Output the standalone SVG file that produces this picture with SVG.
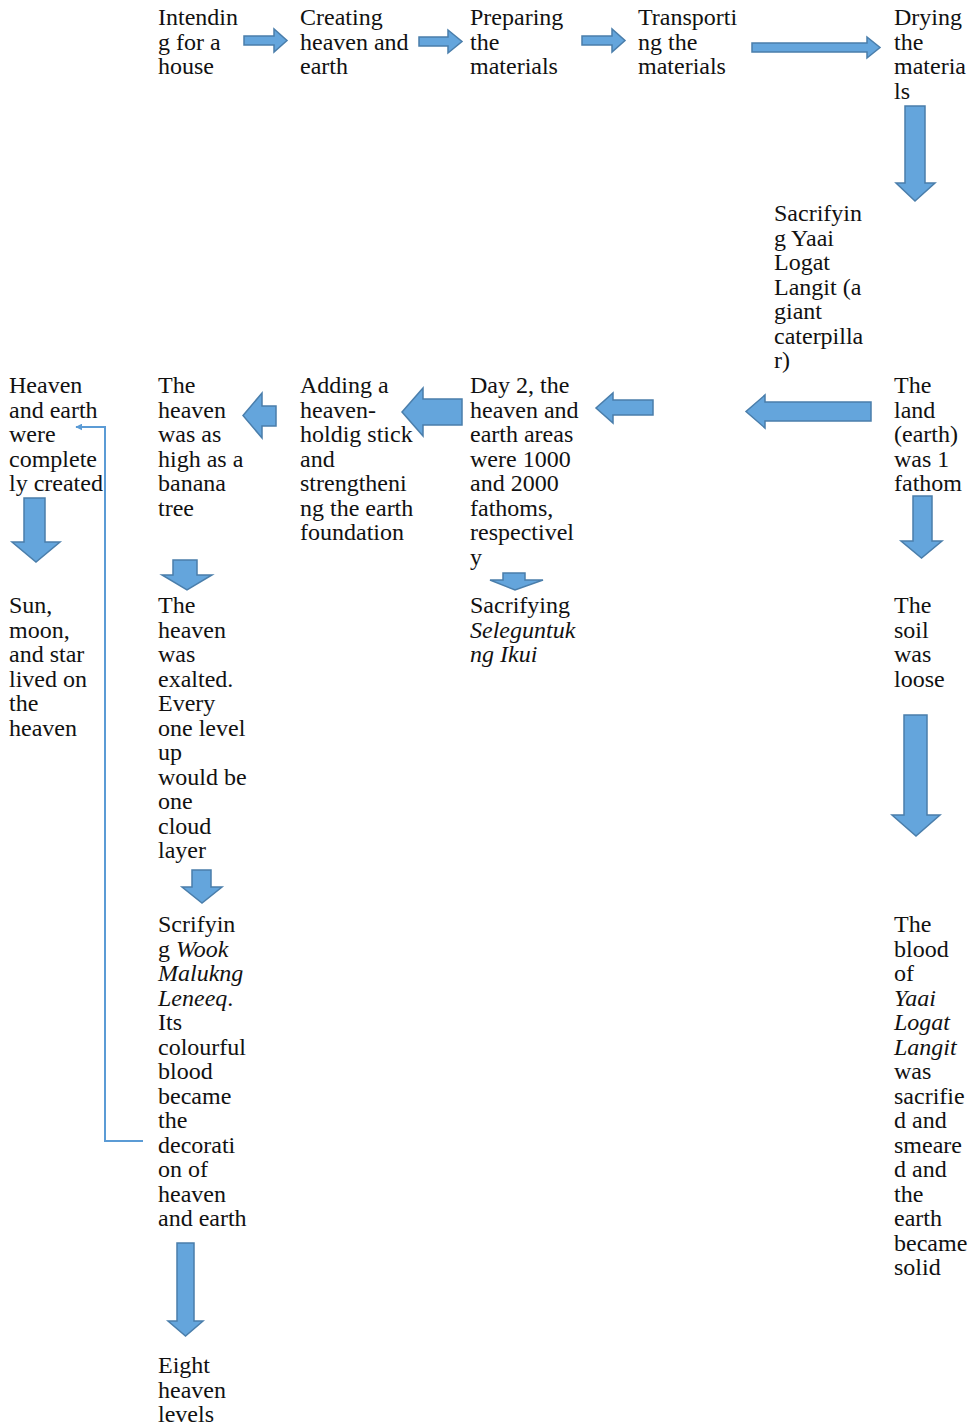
<svg xmlns="http://www.w3.org/2000/svg" width="976" height="1426" viewBox="0 0 976 1426">
<defs>
<style>
text{font-family:'Liberation Serif','Times New Roman',Times,serif;font-size:24px;fill:#111}
.i{font-style:italic}
.a{fill:#64a5dc;stroke:#4a7eab;stroke-width:1.5;stroke-linejoin:miter}
.c{fill:none;stroke:#5b9bd5;stroke-width:2}
</style>
<marker id="ah" viewBox="0 0 10 10" refX="9" refY="5" markerWidth="7" markerHeight="7" orient="auto" markerUnits="userSpaceOnUse">
<path d="M0,0 L10,5 L0,10 z" fill="#5b9bd5"/>
</marker>
</defs>
<rect width="976" height="1426" fill="#fff"/>

<g id="connectors">
<polygon class="a" points="244,36 274,36 274,29 287,40.5 274,52 274,45 244,45"/>
<polygon class="a" points="419,37 448,37 448,30 462,41.5 448,53 448,46 419,46"/>
<polygon class="a" points="582,36 612,36 612,29 625,40.5 612,52 612,45 582,45"/>
<polygon class="a" points="752,43 867,43 867,37 880,47.5 867,58 867,52 752,52"/>
<polygon class="a" points="905,106 925,106 925,183 935,183 915,201 896,183 905,183"/>
<polygon class="a" points="871,402 765,402 765,395 746,411.5 765,428 765,421 871,421"/>
<polygon class="a" points="653,400 613,400 613,393 596,408 613,423 613,415 653,415"/>
<polygon class="a" points="462,399 423,399 423,388 402,412 423,436 423,425 462,425"/>
<polygon class="a" points="276,406 262,406 262,393 243,415.5 262,438 262,426 276,426"/>
<polygon class="a" points="913,496 932,496 932,541 942,541 921.5,558 901,541 913,541"/>
<polygon class="a" points="24,498 45,498 45,542 60,542 36,562 12,542 24,542"/>
<polygon class="a" points="173,560 197,560 197,575 212,575 187,590 162,575 173,575"/>
<polygon class="a" points="503,573 525,573 525,580 543,580 515,590 490,580 503,580"/>
<polygon class="a" points="904,715 927,715 927,815 940,815 916,836 892,815 904,815"/>
<polygon class="a" points="192,870 211,870 211,887 222,887 202,903 182,887 192,887"/>
<polygon class="a" points="177,1243 194,1243 194,1321 203,1321 185.5,1336 168,1321 177,1321"/>
<polyline class="c" points="143,1141 105,1141 105,427 76,427" marker-end="url(#ah)"/>
</g>

<g font-family="Liberation Serif, serif">
<g id="n1"><text x="158" y="25"><tspan x="158">Intendin</tspan><tspan x="158" dy="24.5">g for a</tspan><tspan x="158" dy="24.5">house</tspan></text></g>
<g id="n2"><text x="300" y="25"><tspan x="300">Creating</tspan><tspan x="300" dy="24.5">heaven and</tspan><tspan x="300" dy="24.5">earth</tspan></text></g>
<g id="n3"><text x="470" y="25"><tspan x="470">Preparing</tspan><tspan x="470" dy="24.5">the</tspan><tspan x="470" dy="24.5">materials</tspan></text></g>
<g id="n4"><text x="638" y="25"><tspan x="638">Transporti</tspan><tspan x="638" dy="24.5">ng the</tspan><tspan x="638" dy="24.5">materials</tspan></text></g>
<g id="n5"><text x="894" y="25"><tspan x="894">Drying</tspan><tspan x="894" dy="24.5">the</tspan><tspan x="894" dy="24.5">materia</tspan><tspan x="894" dy="24.5">ls</tspan></text></g>
<g id="n6"><text x="774" y="221"><tspan x="774">Sacrifyin</tspan><tspan x="774" dy="24.5">g Yaai</tspan><tspan x="774" dy="24.5">Logat</tspan><tspan x="774" dy="24.5">Langit (a</tspan><tspan x="774" dy="24.5">giant</tspan><tspan x="774" dy="24.5">caterpilla</tspan><tspan x="774" dy="24.5">r)</tspan></text></g>
<g id="n7"><text x="894" y="393"><tspan x="894">The</tspan><tspan x="894" dy="24.5">land</tspan><tspan x="894" dy="24.5">(earth)</tspan><tspan x="894" dy="24.5">was 1</tspan><tspan x="894" dy="24.5">fathom</tspan></text></g>
<g id="n8"><text x="470" y="393"><tspan x="470">Day 2, the</tspan><tspan x="470" dy="24.5">heaven and</tspan><tspan x="470" dy="24.5">earth areas</tspan><tspan x="470" dy="24.5">were 1000</tspan><tspan x="470" dy="24.5">and 2000</tspan><tspan x="470" dy="24.5">fathoms,</tspan><tspan x="470" dy="24.5">respectivel</tspan><tspan x="470" dy="24.5">y</tspan></text></g>
<g id="n9"><text x="300" y="393"><tspan x="300">Adding a</tspan><tspan x="300" dy="24.5">heaven-</tspan><tspan x="300" dy="24.5">holdig stick</tspan><tspan x="300" dy="24.5">and</tspan><tspan x="300" dy="24.5">strengtheni</tspan><tspan x="300" dy="24.5">ng the earth</tspan><tspan x="300" dy="24.5">foundation</tspan></text></g>
<g id="n10"><text x="158" y="393"><tspan x="158">The</tspan><tspan x="158" dy="24.5">heaven</tspan><tspan x="158" dy="24.5">was as</tspan><tspan x="158" dy="24.5">high as a</tspan><tspan x="158" dy="24.5">banana</tspan><tspan x="158" dy="24.5">tree</tspan></text></g>
<g id="n11"><text x="9" y="393"><tspan x="9">Heaven</tspan><tspan x="9" dy="24.5">and earth</tspan><tspan x="9" dy="24.5">were</tspan><tspan x="9" dy="24.5">complete</tspan><tspan x="9" dy="24.5">ly created</tspan></text></g>
<g id="n12"><text x="9" y="613"><tspan x="9">Sun,</tspan><tspan x="9" dy="24.5">moon,</tspan><tspan x="9" dy="24.5">and star</tspan><tspan x="9" dy="24.5">lived on</tspan><tspan x="9" dy="24.5">the</tspan><tspan x="9" dy="24.5">heaven</tspan></text></g>
<g id="n13"><text x="158" y="613"><tspan x="158">The</tspan><tspan x="158" dy="24.5">heaven</tspan><tspan x="158" dy="24.5">was</tspan><tspan x="158" dy="24.5">exalted.</tspan><tspan x="158" dy="24.5">Every</tspan><tspan x="158" dy="24.5">one level</tspan><tspan x="158" dy="24.5">up</tspan><tspan x="158" dy="24.5">would be</tspan><tspan x="158" dy="24.5">one</tspan><tspan x="158" dy="24.5">cloud</tspan><tspan x="158" dy="24.5">layer</tspan></text></g>
<g id="n14"><text x="470" y="613"><tspan x="470">Sacrifying</tspan><tspan x="470" dy="24.5" class="i">Seleguntuk</tspan><tspan x="470" dy="24.5" class="i">ng Ikui</tspan></text></g>
<g id="n15"><text x="894" y="613"><tspan x="894">The</tspan><tspan x="894" dy="24.5">soil</tspan><tspan x="894" dy="24.5">was</tspan><tspan x="894" dy="24.5">loose</tspan></text></g>
<g id="n16"><text x="158" y="932"><tspan x="158">Scrifyin</tspan><tspan x="158" dy="24.5">g <tspan class="i">Wook</tspan></tspan><tspan x="158" dy="24.5" class="i">Malukng</tspan><tspan x="158" dy="24.5"><tspan class="i">Leneeq</tspan>.</tspan><tspan x="158" dy="24.5">Its</tspan><tspan x="158" dy="24.5">colourful</tspan><tspan x="158" dy="24.5">blood</tspan><tspan x="158" dy="24.5">became</tspan><tspan x="158" dy="24.5">the</tspan><tspan x="158" dy="24.5">decorati</tspan><tspan x="158" dy="24.5">on of</tspan><tspan x="158" dy="24.5">heaven</tspan><tspan x="158" dy="24.5">and earth</tspan></text></g>
<g id="n17"><text x="894" y="932"><tspan x="894">The</tspan><tspan x="894" dy="24.5">blood</tspan><tspan x="894" dy="24.5">of</tspan><tspan x="894" dy="24.5" class="i">Yaai</tspan><tspan x="894" dy="24.5" class="i">Logat</tspan><tspan x="894" dy="24.5" class="i">Langit</tspan><tspan x="894" dy="24.5">was</tspan><tspan x="894" dy="24.5">sacrifie</tspan><tspan x="894" dy="24.5">d and</tspan><tspan x="894" dy="24.5">smeare</tspan><tspan x="894" dy="24.5">d and</tspan><tspan x="894" dy="24.5">the</tspan><tspan x="894" dy="24.5">earth</tspan><tspan x="894" dy="24.5">became</tspan><tspan x="894" dy="24.5">solid</tspan></text></g>
<g id="n18"><text x="158" y="1373"><tspan x="158">Eight</tspan><tspan x="158" dy="24.5">heaven</tspan><tspan x="158" dy="24.5">levels</tspan></text></g>
</g>
</svg>
